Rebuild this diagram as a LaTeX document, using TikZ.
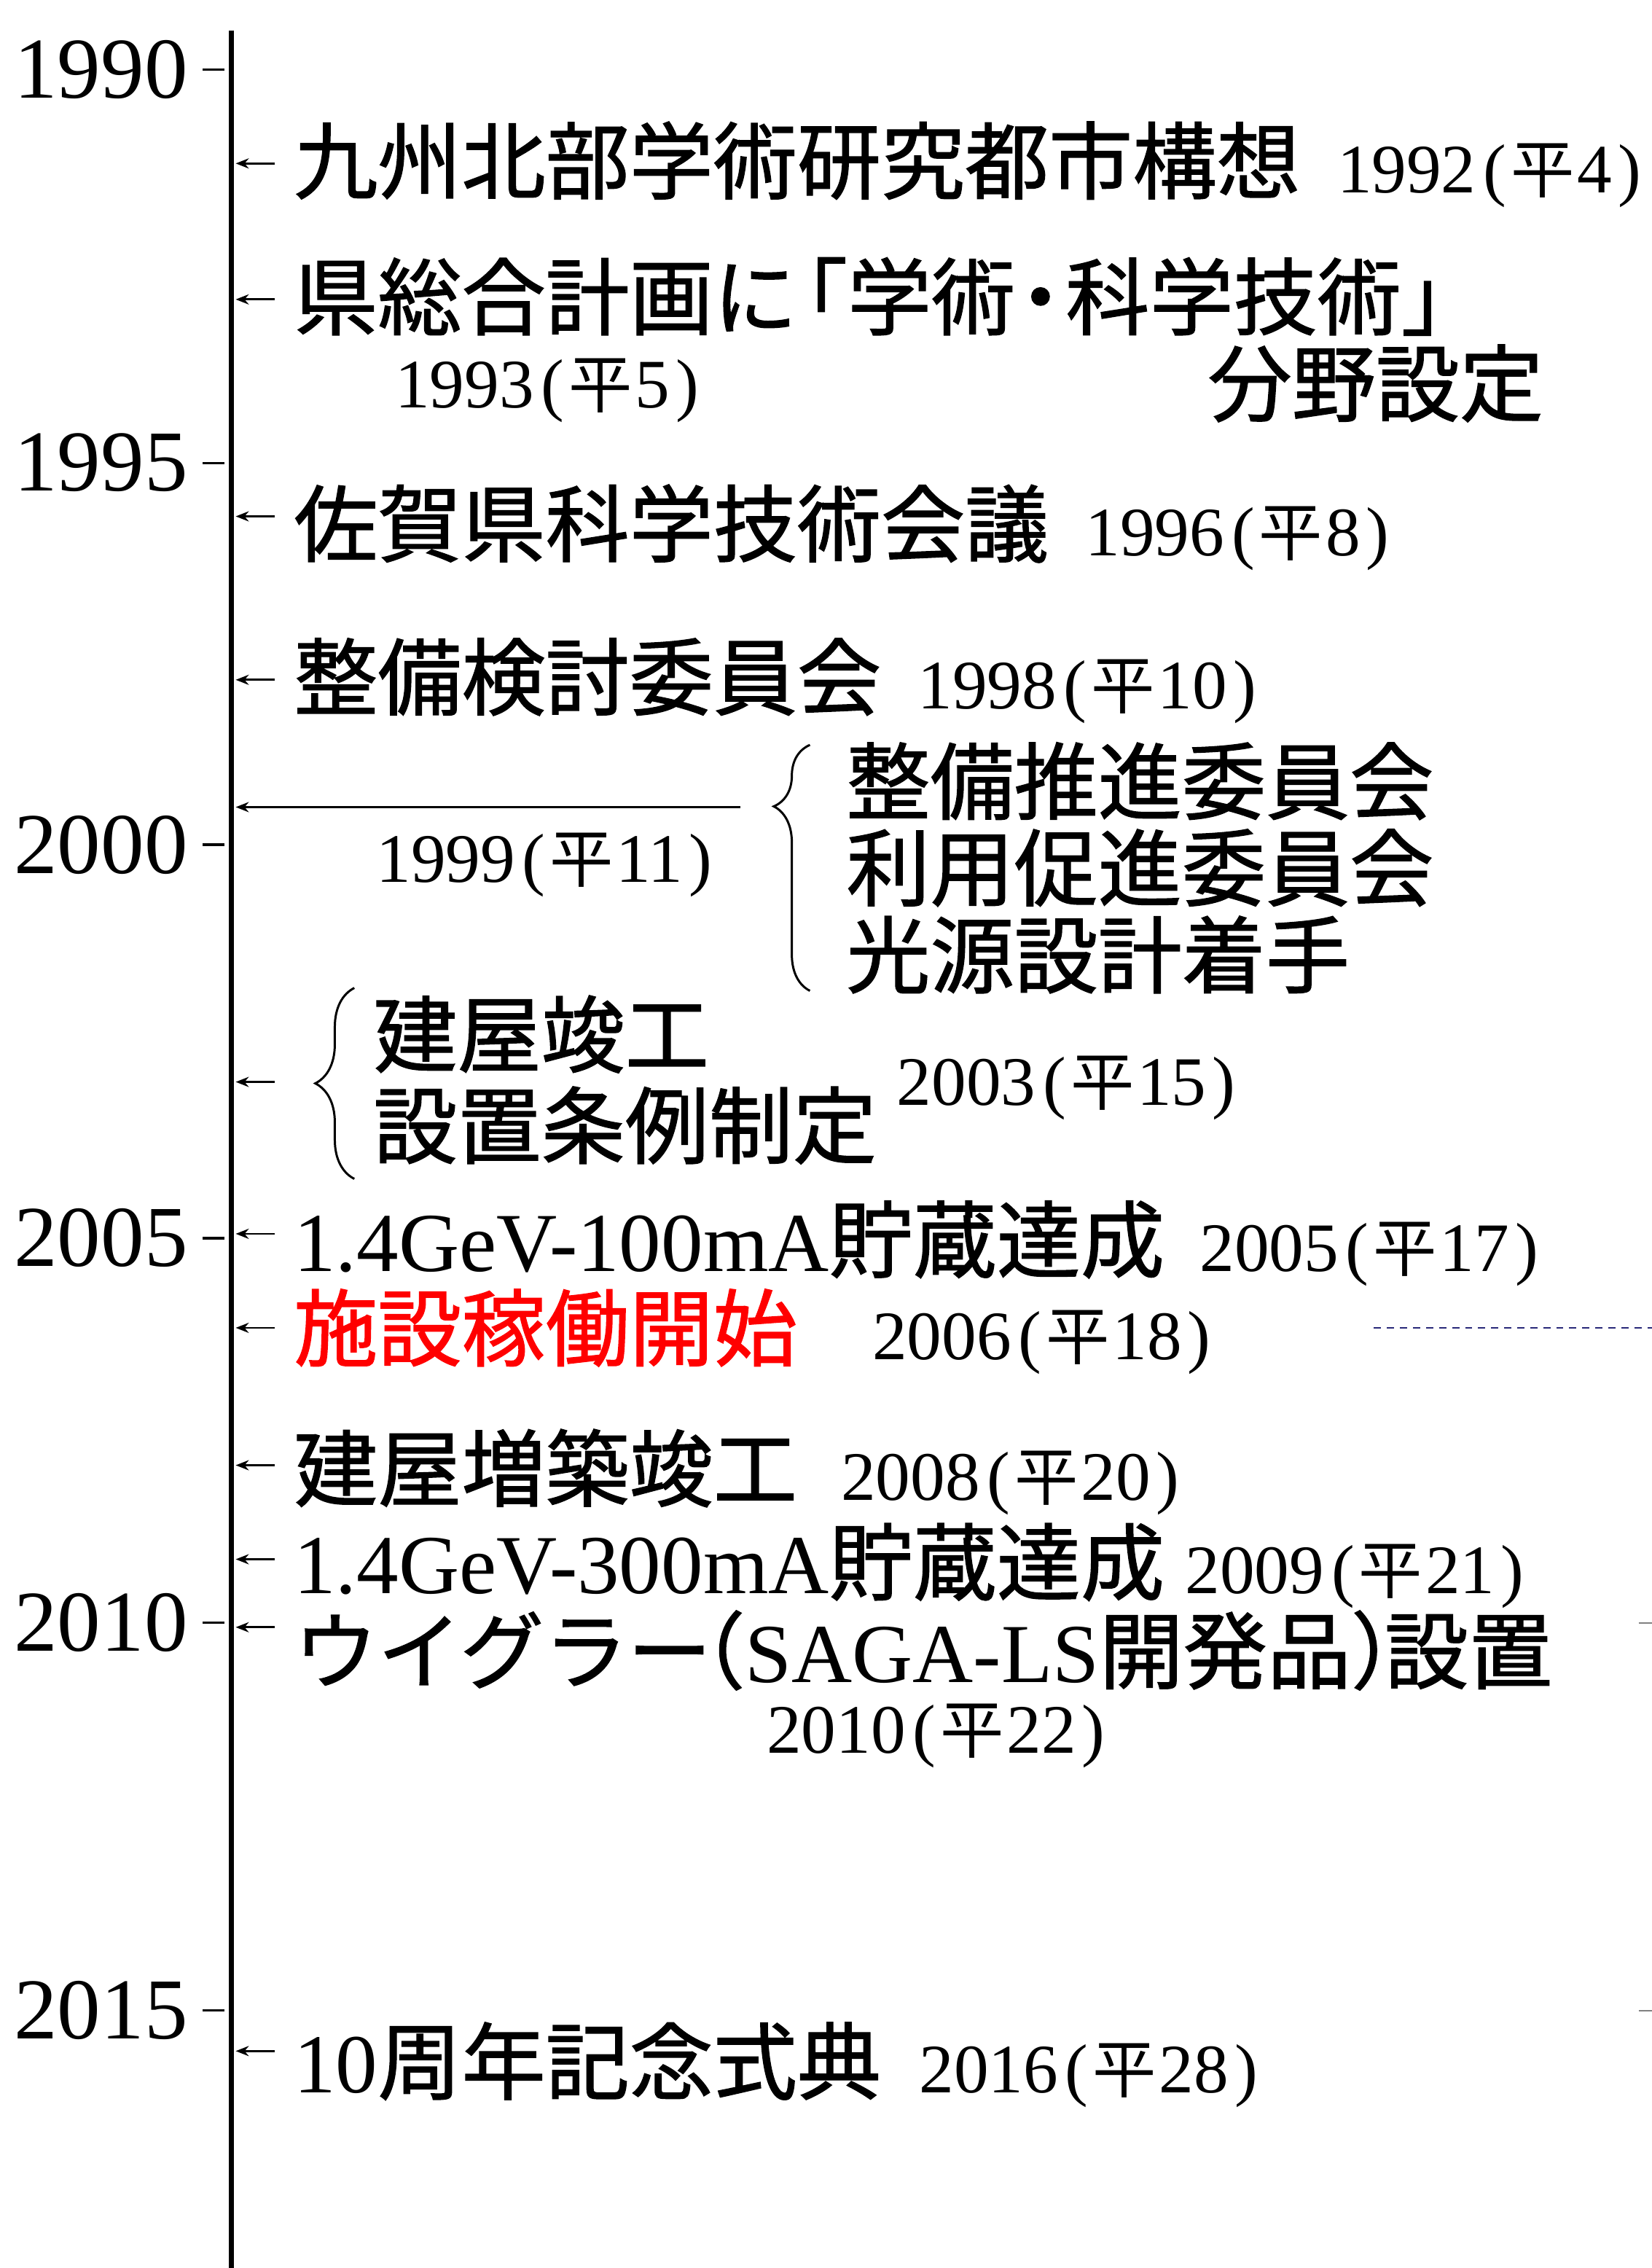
\documentclass[tikz,border=0pt]{standalone}
\usepackage{fontspec}
\setmainfont{Liberation Serif}
\newfontfamily\jp[FakeBold=1.2]{Noto Sans CJK JP}
\newfontfamily\jpthin{Noto Sans CJK JP}
\usetikzlibrary{arrows.meta,decorations.pathreplacing}
\definecolor{navy}{RGB}{40,40,120}
\newcommand{\nengo}[2]{#1\kern5pt(\kern3pt{\jpthin\fontsize{44}{48}\selectfont 平}\kern2pt#2\kern4pt)}
\begin{document}
\begin{tikzpicture}[x=1pt,y=-1pt,
    ev/.style={anchor=west,inner sep=0pt,font=\jp\fontsize{58}{64}\selectfont},
    yr/.style={anchor=base west,inner sep=0pt,font=\fontsize{48}{52}\selectfont},
    arr/.style={-{Stealth[length=9pt,width=7pt]},line width=1.4pt},
    brc/.style={decorate,line width=1.5pt},
  ]
  \useasboundingbox (0,0) rectangle (1142,1568);

  \coordinate (top) at (160,21); %軸の上端
  \coordinate (bot) at (160,1568); %軸の下端
  \draw[line width=3.5pt] (top) -- (bot); %年表の軸
  \foreach \yr/\y in {1990/48,1995/320,2000/584,2005/856,2010/1122,2015/1390} {
    \node[anchor=east,inner sep=0pt,font=\fontsize{60}{60}\selectfont] (tick\yr) at (130,\y) {\yr};
    \draw[line width=1.6pt] ([xshift=10pt]tick\yr.east) -- ++(15,0);
  } %目盛り

  % 各出来事から軸への矢印
  \foreach \n/\y in {a/113,b/207,c/357,d/470,f/748,g/853,h/918,i/1013,j/1078,k/1125,l/1418} {
    \coordinate (s\n) at (190,\y);
    \coordinate (e\n) at (163,\y);
    \draw[arr] (s\n) -- (e\n);
  }
  \coordinate (se) at (512,558); %1999の矢印
  \coordinate (ee) at (163,558);
  \draw[arr] (se) -- (ee);

  \node[ev] (t1) at (203,111) {九州北部学術研究都市構想};
  \node[yr] (y1) at ([xshift=25pt]t1.base east) {\nengo{1992}{4}};

  \node[ev] (t2) at (203,205) {県総合計画に\kern-0.4em「学術\kern-0.2em・\kern-0.2em科学技術」};
  \node[ev] (t2b) at (835,265) {分野設定};
  \node[yr,anchor=west] (y2) at (273,270) {\nengo{1993}{5}};

  \node[ev] (t3) at (203,362) {佐賀県科学技術会議};
  \node[yr] (y3) at ([xshift=25pt]t3.base east) {\nengo{1996}{8}};

  \node[ev] (t4) at (203,468) {整備検討委員会};
  \node[yr] (y4) at ([xshift=25pt]t4.base east) {\nengo{1998}{10}};

  \node[yr,anchor=west] (y5) at (260,598) {\nengo{1999}{11}};
  \draw[brc,decoration={brace,amplitude=25pt,aspect=0.75}] (560,685) -- (560,515); %括弧
  \node[ev] (t5a) at (585,540) {整備推進委員会};
  \node[ev] (t5b) at (585,600) {利用促進委員会};
  \node[ev] (t5c) at (585,660) {光源設計着手};

  \draw[brc,decoration={brace,amplitude=27pt,aspect=0.5}] (245,815) -- (245,683); %括弧
  \node[ev] (t6a) at (258,715) {建屋竣工};
  \node[ev] (t6b) at (258,778) {設置条例制定};
  \node[yr,anchor=west] (y6) at (620,752) {\nengo{2003}{15}};

  \node[ev] (t7) at (203,857) {{\rmfamily 1.4GeV-100mA}貯蔵達成};
  \node[yr] (y7) at ([xshift=24pt]t7.base east) {\nengo{2005}{17}};

  \node[ev,text=red] (t8) at (203,918) {施設稼働開始};
  \node[yr,anchor=west] (y8) at (603,928) {\nengo{2006}{18}};
  \coordinate (d1) at (950,918); %破線
  \coordinate (d2) at (1142,918);
  \draw[navy,line width=1.3pt,dash pattern=on 5pt off 4pt] (d1) -- (d2);

  \node[ev] (t9) at (203,1015) {建屋増築竣工};
  \node[yr] (y9) at ([xshift=30pt]t9.base east) {\nengo{2008}{20}};

  \node[ev] (t10) at (203,1080) {{\rmfamily 1.4GeV-300mA}貯蔵達成};
  \node[yr] (y10) at ([xshift=14pt]t10.base east) {\nengo{2009}{21}};

  \node[ev] (t11) at (203,1141) {ウイグラー\kern-0.6em（{\rmfamily SAGA-LS}開発品）\kern-0.6em設置};
  \node[yr,anchor=west] (y11) at (530,1200) {\nengo{2010}{22}};

  \node[ev] (t12) at (203,1425) {{\rmfamily 10}周年記念式典};
  \node[yr] (y12) at ([xshift=26pt]t12.base east) {\nengo{2016}{28}};

  \coordinate (m1) at (1133,1122); %右端の切れ端
  \coordinate (m2) at (1133,1390);
  \draw[gray,line width=1pt] (m1) -- ++(9,0);
  \draw[gray,line width=1pt] (m2) -- ++(9,0);
\end{tikzpicture}
\end{document}
